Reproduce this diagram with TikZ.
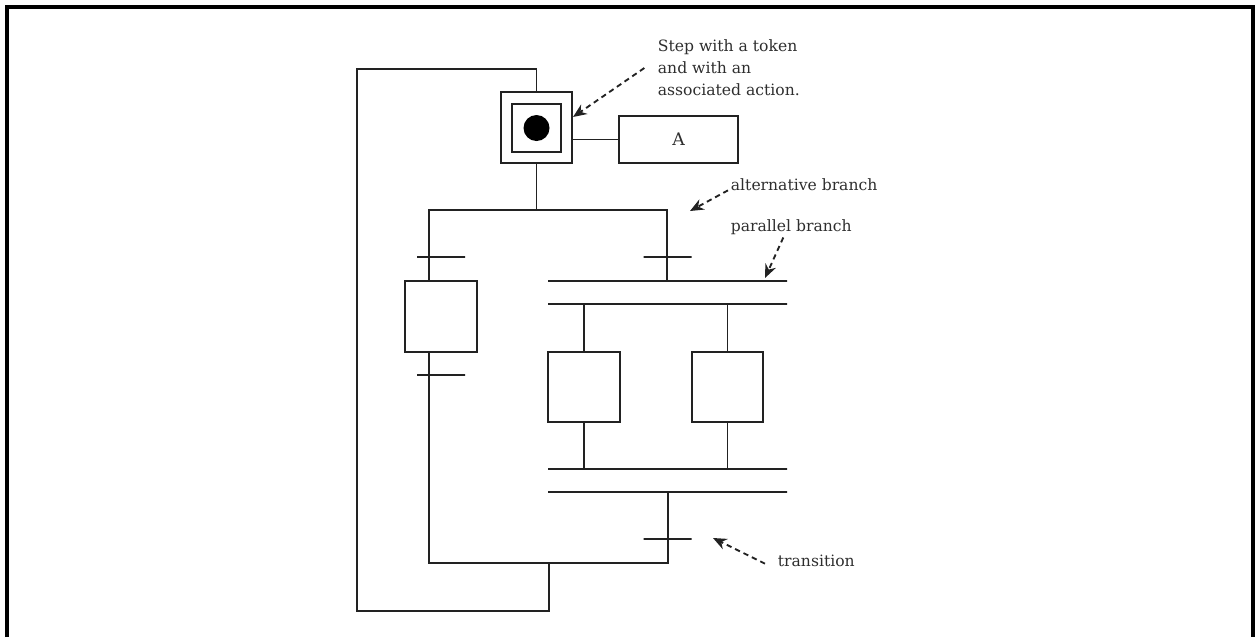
\documentclass[tikz,border=0pt]{standalone}
\usepackage{fontspec}
\setmainfont{DejaVu Serif}
\usepackage{tikz}
\usetikzlibrary{arrows.meta,positioning,calc}
\definecolor{ink}{HTML}{222222}
\definecolor{txt}{HTML}{2E2E2E}
\tikzset{
  >={Stealth[length=3.6mm,width=3mm]},
  stepbox/.style={draw=ink,line width=1.35pt,inner sep=0pt,fill=white},
  actbox/.style={stepbox,font=\fontsize{13}{15}\selectfont,text=txt},
  tick/.style={draw=ink,line width=1.35pt,inner sep=0pt,minimum height=0pt,minimum width=36pt},
  bar/.style={tick,minimum width=179.25pt},
  ln/.style={draw=ink,line width=1.35pt},
  lab/.style={font=\fontsize{11.7}{16.5}\selectfont,text=txt,align=left,inner sep=2pt},
  darr/.style={->,draw=ink,line width=1.4pt,dash pattern=on 4pt off 3pt},
  frm/.style={draw=black,line width=2.4pt},
}
\begin{document}
\begin{tikzpicture}[x=0.75pt,y=-0.75pt]
\useasboundingbox (0,0) rectangle (1255,637);
\draw[frm] (7,637) -- (7,7) -- (1253,7) -- (1253,637);
\node[stepbox,minimum width=53.25pt,minimum height=53.25pt] (step0) at (536.5,127.5) {};
\node[stepbox,minimum width=36.75pt,minimum height=36pt] (step0in) at (536.5,128) {};
\fill[black] (step0in.center) circle[radius=9.75pt];
\node[actbox,minimum width=89.25pt,minimum height=35.25pt] (act) at (678.5,139.5) {A};
\node[stepbox,minimum width=54pt,minimum height=53.25pt] (s1) at (441,316.5) {};
\node[stepbox,minimum width=54pt,minimum height=52.5pt] (s2) at (584,387) {};
\node[stepbox,minimum width=53.25pt,minimum height=52.5pt] (s3) at (727.5,387) {};
\node[tick] (t1) at (441,257) {};
\node[tick] (t2) at (667.5,257) {};
\node[tick] (t3) at (441,375) {};
\node[tick] (t4) at (667.5,539) {};
\node[bar] (pa) at (667.5,281) {};
\node[bar] (pb) at (667.5,304) {};
\node[bar] (pc) at (667.5,469) {};
\node[bar] (pd) at (667.5,492) {};
\coordinate (altL) at (429,210); \coordinate (altR) at (667,210);
\coordinate (joinL) at (429,563); \coordinate (joinR) at (668,563);
\coordinate (loopB) at (549,611); \coordinate (loopL) at (357,611); \coordinate (loopT) at (357,69);
\draw[ln] (step0.south) -- (step0.south |- altL);
\draw[ln] (s1.north -| altL) -- (altL) -- (altR) -- (altR |- pa.center);
\draw[ln] (s2.north) -- (s2.north |- pb.center); \draw[ln] (s3.north) -- (s3.north |- pb.center);
\draw[ln] (s2.south) -- (s2.south |- pc.center); \draw[ln] (s3.south) -- (s3.south |- pc.center);
\draw[ln] (s1.south -| altL) -- (joinL) -- (joinR) -- (joinR |- pd.center);
\draw[ln] (joinL -| loopB) -- (loopB) -- (loopL) -- (loopT) -- (loopT -| step0.north) -- (step0.north);
\draw[ln] (act.west -| step0.east) -- (act.west);
\node[lab,anchor=west] (nstep) at (655,68) {Step with a token\\and with an\\associated action.};
\node[lab,anchor=west] (nalt) at (728,185) {alternative branch};
\node[lab,anchor=west] (npar) at (728,227) {parallel branch};
\node[lab,anchor=west] (ntr) at (775,561) {transition};
\coordinate (tipStep) at (573,117); \coordinate (tipAlt) at (690,211);
\coordinate (tipPar) at (765,278); \coordinate (tipTr) at (713,538);
\draw[darr] ([xshift=-8pt]nstep.west) -- (tipStep);
\draw[darr] ([yshift=-4pt]nalt.west) -- (tipAlt);
\draw[darr] ([xshift=-6pt]npar.south) -- (tipPar);
\draw[darr] ([xshift=-7.5pt,yshift=-2pt]ntr.west) -- (tipTr);
\end{tikzpicture}
\end{document}
